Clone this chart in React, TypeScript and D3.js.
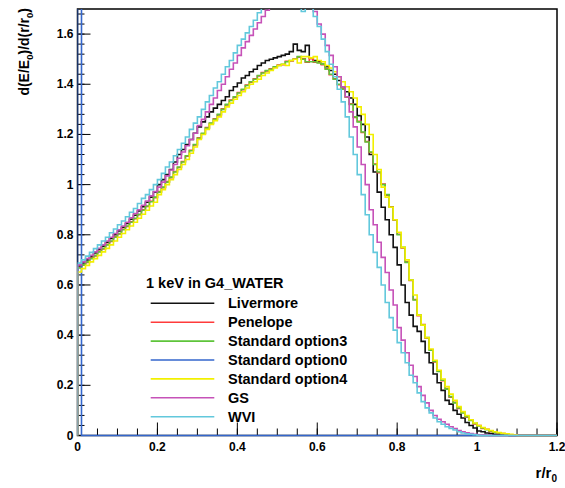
import React from "react";
import * as d3 from "d3";

const BIN_W = 0.01;

const livermore = [
  0.675, 0.688, 0.700, 0.712, 0.728, 0.742, 0.755, 0.770, 0.785, 0.800,
  0.815, 0.830, 0.845, 0.862, 0.878, 0.895, 0.912, 0.930, 0.950, 0.970,
  1.000, 1.020, 1.040, 1.060, 1.090, 1.120, 1.140, 1.160, 1.180, 1.205,
  1.230, 1.250, 1.270, 1.290, 1.305, 1.320, 1.335, 1.350, 1.375, 1.390,
  1.405, 1.425, 1.435, 1.450, 1.460, 1.475, 1.485, 1.495, 1.500, 1.505,
  1.510, 1.515, 1.520, 1.530, 1.560, 1.535, 1.530, 1.555, 1.505, 1.495,
  1.490, 1.480, 1.470, 1.455, 1.440, 1.415, 1.390, 1.370, 1.345, 1.320,
  1.275, 1.240, 1.190, 1.120, 1.050, 0.970, 0.910, 0.860, 0.800, 0.750,
  0.680, 0.600, 0.530, 0.480, 0.435, 0.415, 0.375, 0.330, 0.290, 0.245,
  0.210, 0.180, 0.140, 0.125, 0.100, 0.085, 0.070, 0.052, 0.040, 0.030,
  0.018, 0.015, 0.010, 0.008, 0.005, 0.004, 0.002, 0.001, 0, 0,
  0, 0, 0, 0, 0, 0, 0, 0, 0, 0,
];

const penelope = [
  0.670, 0.680, 0.690, 0.707, 0.716, 0.734, 0.744, 0.762, 0.773, 0.792,
  0.803, 0.822, 0.833, 0.852, 0.864, 0.880, 0.900, 0.913, 0.934, 0.948,
  0.972, 0.988, 1.012, 1.028, 1.052, 1.068, 1.092, 1.113, 1.137, 1.158,
  1.187, 1.203, 1.227, 1.243, 1.262, 1.278, 1.302, 1.318, 1.337, 1.348,
  1.367, 1.378, 1.397, 1.408, 1.422, 1.433, 1.447, 1.453, 1.462, 1.468,
  1.477, 1.478, 1.492, 1.493, 1.502, 1.508, 1.502, 1.488, 1.502, 1.488,
  1.487, 1.478, 1.462, 1.438, 1.422, 1.398, 1.382, 1.348, 1.322, 1.268,
  1.252, 1.208, 1.172, 1.128, 1.082, 1.048, 1.002, 0.958, 0.912, 0.858,
  0.802, 0.748, 0.692, 0.618, 0.542, 0.478, 0.442, 0.388, 0.342, 0.293,
  0.257, 0.218, 0.187, 0.153, 0.132, 0.108, 0.092, 0.073, 0.062, 0.046,
  0.040, 0.028, 0.025, 0.016, 0.014, 0.009, 0.008, 0.004, 0.003, 0.001,
  0, 0, 0, 0, 0, 0, 0, 0, 0, 0,
];

const option3 = [
  0.668, 0.680, 0.692, 0.705, 0.718, 0.732, 0.746, 0.760, 0.775, 0.790,
  0.805, 0.820, 0.835, 0.850, 0.866, 0.882, 0.898, 0.915, 0.932, 0.950,
  0.970, 0.990, 1.010, 1.030, 1.050, 1.070, 1.090, 1.115, 1.135, 1.160,
  1.185, 1.205, 1.225, 1.245, 1.260, 1.280, 1.300, 1.320, 1.335, 1.350,
  1.365, 1.380, 1.395, 1.410, 1.420, 1.435, 1.445, 1.455, 1.460, 1.470,
  1.475, 1.480, 1.490, 1.495, 1.500, 1.510, 1.500, 1.490, 1.490, 1.490,
  1.485, 1.480, 1.460, 1.440, 1.420, 1.400, 1.380, 1.350, 1.320, 1.270,
  1.250, 1.210, 1.170, 1.130, 1.080, 1.050, 1.000, 0.960, 0.910, 0.860,
  0.800, 0.750, 0.690, 0.620, 0.540, 0.480, 0.440, 0.390, 0.340, 0.295,
  0.255, 0.220, 0.185, 0.155, 0.130, 0.110, 0.090, 0.075, 0.060, 0.048,
  0.038, 0.030, 0.023, 0.018, 0.013, 0.010, 0.007, 0.005, 0.003, 0.001,
  0, 0, 0, 0, 0, 0, 0, 0, 0, 0,
];

const option0 = [
  60, 0, 0, 0, 0, 0, 0, 0, 0, 0,
  0, 0, 0, 0, 0, 0, 0, 0, 0, 0,
  0, 0, 0, 0, 0, 0, 0, 0, 0, 0,
  0, 0, 0, 0, 0, 0, 0, 0, 0, 0,
  0, 0, 0, 0, 0, 0, 0, 0, 0, 0,
  0, 0, 0, 0, 0, 0, 0, 0, 0, 0,
  0, 0, 0, 0, 0, 0, 0, 0, 0, 0,
  0, 0, 0, 0, 0, 0, 0, 0, 0, 0,
  0, 0, 0, 0, 0, 0, 0, 0, 0, 0,
  0, 0, 0, 0, 0, 0, 0, 0, 0, 0,
  0, 0, 0, 0, 0, 0, 0, 0, 0, 0,
  0, 0, 0, 0, 0, 0, 0, 0, 0, 0,
];

const option4 = [
  0.652, 0.665, 0.678, 0.692, 0.705, 0.718, 0.732, 0.746, 0.760, 0.775,
  0.790, 0.805, 0.820, 0.835, 0.850, 0.866, 0.882, 0.898, 0.915, 0.930,
  0.960, 0.980, 1.000, 1.020, 1.040, 1.060, 1.080, 1.100, 1.125, 1.150,
  1.180, 1.200, 1.220, 1.240, 1.255, 1.270, 1.290, 1.310, 1.325, 1.340,
  1.355, 1.370, 1.385, 1.400, 1.410, 1.420, 1.435, 1.445, 1.455, 1.465,
  1.475, 1.480, 1.475, 1.495, 1.500, 1.485, 1.510, 1.510, 1.505, 1.510,
  1.495, 1.490, 1.475, 1.465, 1.450, 1.430, 1.410, 1.390, 1.370, 1.345,
  1.310, 1.280, 1.240, 1.200, 1.120, 1.060, 0.990, 0.950, 0.910, 0.860,
  0.810, 0.750, 0.700, 0.620, 0.560, 0.480, 0.440, 0.390, 0.345, 0.300,
  0.260, 0.225, 0.195, 0.165, 0.140, 0.115, 0.095, 0.080, 0.063, 0.050,
  0.040, 0.032, 0.025, 0.020, 0.015, 0.012, 0.009, 0.007, 0.005, 0.003,
  0, 0, 0, 0, 0, 0, 0, 0, 0, 0,
];

const gs = [
  0.680, 0.692, 0.705, 0.718, 0.732, 0.746, 0.760, 0.775, 0.790, 0.805,
  0.820, 0.835, 0.850, 0.868, 0.885, 0.900, 0.918, 0.935, 0.955, 0.972,
  0.990, 1.010, 1.035, 1.058, 1.080, 1.105, 1.130, 1.155, 1.180, 1.205,
  1.235, 1.260, 1.290, 1.320, 1.345, 1.375, 1.400, 1.430, 1.460, 1.485,
  1.515, 1.545, 1.570, 1.595, 1.620, 1.645, 1.670, 1.695, 1.715, 1.735,
  1.750, 1.765, 1.775, 1.785, 1.790, 1.785, 1.780, 1.770, 1.755, 1.690,
  1.640, 1.600, 1.555, 1.515, 1.470, 1.430, 1.390, 1.350, 1.290, 1.230,
  1.150, 1.080, 1.000, 0.900, 0.840, 0.770, 0.710, 0.650, 0.580, 0.520,
  0.430, 0.380, 0.330, 0.280, 0.235, 0.195, 0.160, 0.130, 0.100, 0.080,
  0.065, 0.055, 0.045, 0.035, 0.028, 0.020, 0.015, 0.011, 0.008, 0.005,
  0.003, 0.002, 0.001, 0, 0, 0, 0, 0, 0, 0,
  0, 0, 0, 0, 0, 0, 0, 0, 0, 0,
];

const wvi = [
  0.687, 0.700, 0.715, 0.730, 0.745, 0.760, 0.775, 0.790, 0.808, 0.823,
  0.840, 0.855, 0.872, 0.890, 0.905, 0.925, 0.945, 0.960, 0.980, 1.000,
  1.020, 1.045, 1.070, 1.090, 1.115, 1.140, 1.165, 1.190, 1.220, 1.245,
  1.270, 1.300, 1.330, 1.355, 1.385, 1.410, 1.440, 1.470, 1.495, 1.525,
  1.555, 1.580, 1.605, 1.630, 1.655, 1.685, 1.710, 1.735, 1.755, 1.770,
  1.785, 1.795, 1.800, 1.790, 1.780, 1.760, 1.690, 1.740, 1.720, 1.670,
  1.630, 1.580, 1.530, 1.480, 1.430, 1.380, 1.330, 1.270, 1.190, 1.120,
  1.040, 0.960, 0.880, 0.800, 0.730, 0.670, 0.600, 0.530, 0.470, 0.420,
  0.370, 0.330, 0.290, 0.240, 0.210, 0.170, 0.135, 0.110, 0.090, 0.070,
  0.055, 0.045, 0.035, 0.028, 0.022, 0.015, 0.010, 0.007, 0.005, 0.003,
  0.001, 0, 0, 0, 0, 0, 0, 0, 0, 0,
  0, 0, 0, 0, 0, 0, 0, 0, 0, 0,
];

const seriesNames = ["Livermore", "Penelope", "Standard option3", "Standard option0", "Standard option4", "GS", "WVI"];
const seriesData = [livermore, penelope, option3, option0, option4, gs, wvi];
const seriesColors = ["#111111", "#ff3b3b", "#5ec43a", "#3366cc", "#f2f000", "#c652b8", "#62c8dc"];

const xTickValues = [0, 0.2, 0.4, 0.6, 0.8, 1, 1.2];
const xTickLabels = ["0", "0.2", "0.4", "0.6", "0.8", "1", "1.2"];
const yTickValues = [0, 0.2, 0.4, 0.6, 0.8, 1, 1.2, 1.4, 1.6];
const yTickLabels = ["0", "0.2", "0.4", "0.6", "0.8", "1", "1.2", "1.4", "1.6"];

const legendHeader = "1 keV in G4_WATER";

const FONT = "'Liberation Sans', Arial, Helvetica, sans-serif";

export default function App() {
  const W = 565, H = 488;
  const left = 77.5, right = 557, top = 9, bottom = 435.5;
  const x = d3.scaleLinear().domain([0, 1.2]).range([left, right]);
  const y = d3.scaleLinear().domain([0, 1.7]).range([bottom, top]);

  const xMinor = d3.range(0, 1.2001, 0.05);
  const yMinor = d3.range(0, 1.7001, 0.04);

  const line = d3
    .line<[number, number]>()
    .x((d) => x(d[0]))
    .y((d) => y(d[1]))
    .curve(d3.curveStepAfter);

  const histPath = (vals: number[]) => {
    const pts: [number, number][] = [[0, 0]];
    vals.forEach((v, i) => pts.push([i * BIN_W, v]));
    pts.push([vals.length * BIN_W, vals[vals.length - 1]]);
    return line(pts) || "";
  };

  const legX0 = 150.7, legX1 = 214.3, legText = 228, legY0 = 303.3, legDy = 18.9;

  return (
    <svg width={W} height={H} style={{ position: "absolute", left: 0, top: 0, background: "#fff" }} fontFamily={FONT}>
      <defs>
        <clipPath id="plotclip">
          <rect x={left} y={top} width={right - left} height={bottom - top + 1.5} />
        </clipPath>
      </defs>
      <rect x={0} y={0} width={W} height={H} fill="#fff" />
      {/* frame */}
      <rect x={left} y={top} width={right - left} height={bottom - top} fill="none" stroke="#000" strokeWidth={1.5} />
      {/* x ticks */}
      {xMinor.map((v, i) => (
        <line key={"xm" + i} x1={x(v)} x2={x(v)} y1={bottom} y2={bottom - 7} stroke="#000" strokeWidth={1} />
      ))}
      {xTickValues.map((v, i) => (
        <line key={"xM" + i} x1={x(v)} x2={x(v)} y1={bottom} y2={bottom - 13} stroke="#000" strokeWidth={1} />
      ))}
      {xTickValues.map((v, i) => (
        <text key={"xl" + i} x={x(v)} y={451} textAnchor="middle" fontSize={12} fontWeight="bold" fill="#000">
          {xTickLabels[i]}
        </text>
      ))}
      {/* y ticks */}
      {yMinor.map((v, i) => (
        <line key={"ym" + i} x1={left} x2={left + 7} y1={y(v)} y2={y(v)} stroke="#000" strokeWidth={1} />
      ))}
      {yTickValues.map((v, i) => (
        <line key={"yM" + i} x1={left} x2={left + 13} y1={y(v)} y2={y(v)} stroke="#000" strokeWidth={1} />
      ))}
      {yTickValues.map((v, i) => (
        <text key={"yl" + i} x={73.5} y={y(v) + 4} textAnchor="end" fontSize={12} fontWeight="bold" fill="#000">
          {yTickLabels[i]}
        </text>
      ))}
      {/* histograms */}
      <g clipPath="url(#plotclip)">
        {seriesData.map((vals, i) => (
          <path key={"h" + i} d={histPath(vals)} fill="none" stroke={seriesColors[i]} strokeWidth={1.6} />
        ))}
      </g>
      {/* axis titles */}
      <text transform="translate(29,8) rotate(-90)" textAnchor="end" fontSize={14} fontWeight="bold" fill="#000">
        d(E/E<tspan dy={4} fontSize={9.5}>0</tspan>
        <tspan dy={-4}>)/d(r/r</tspan>
        <tspan dy={4} fontSize={9.5}>0</tspan>
        <tspan dy={-4}>)</tspan>
      </text>
      <text x={557} y={478} textAnchor="end" fontSize={15} fontWeight="bold" fill="#000">
        r/r<tspan dy={4} fontSize={10}>0</tspan>
      </text>
      {/* legend */}
      <text x={146} y={288} fontSize={14.5} fontWeight="bold" fill="#000">
        {legendHeader}
      </text>
      {seriesNames.map((name, i) => {
        const ly = legY0 + i * legDy;
        return (
          <g key={"lg" + i}>
            <line x1={legX0} x2={legX1} y1={ly} y2={ly} stroke={seriesColors[i]} strokeWidth={1.6} />
            <text x={legText} y={ly + 5} fontSize={14.5} fontWeight="bold" fill="#000">
              {name}
            </text>
          </g>
        );
      })}
    </svg>
  );
}
